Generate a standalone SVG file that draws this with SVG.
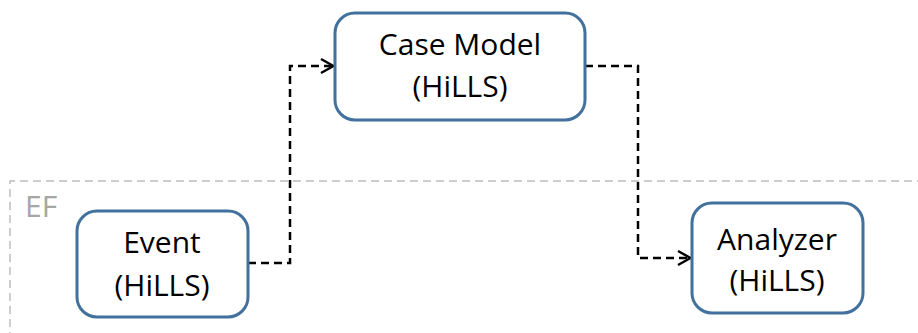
<svg xmlns="http://www.w3.org/2000/svg" width="918" height="333" viewBox="0 0 918 333">
<defs>
<style>
.node rect{fill:#fff;stroke:#41719c;stroke-width:3}
.node text{font-family:"Open Sans","Liberation Sans",sans-serif;font-size:30px;fill:#000;text-anchor:middle}
.conn path{fill:none;stroke:#000;stroke-width:2.5;stroke-dasharray:8 5}
.frame{fill:none;stroke:#bdbdbd;stroke-width:1.5;stroke-dasharray:8 5}
</style>
<marker id="arr" viewBox="0 0 16 18" refX="15" refY="9" markerWidth="16" markerHeight="18" markerUnits="userSpaceOnUse" orient="auto">
<path d="M2,2 L14.5,9 L2,16" fill="none" stroke="#000" stroke-width="2.5"/>
</marker>
</defs>
<rect width="918" height="333" fill="#fff"/>
<g id="EF">
<path class="frame" d="M10,340 L10,181 L925,181"/>
<text x="25" y="217" font-family="'Open Sans','Liberation Sans',sans-serif" font-size="30" fill="#a6a6a6">EF</text>
</g>
<g class="conn" id="connectors">
<path d="M248,263 L290,263 L290,66 L334,66" marker-end="url(#arr)"/>
<path d="M585,66 L638,66 L638,258 L691,258" marker-end="url(#arr)"/>
</g>
<g id="case_model" class="node">
<rect x="335" y="13" width="250" height="107" rx="20"/>
<text x="460" y="55">Case Model</text>
<text x="460" y="97">(HiLLS)</text>
</g>
<g id="event" class="node">
<rect x="77" y="211" width="171" height="106" rx="20"/>
<text x="162" y="253">Event</text>
<text x="162" y="296">(HiLLS)</text>
</g>
<g id="analyzer" class="node">
<rect x="692" y="203" width="171" height="110" rx="20"/>
<text x="777" y="250">Analyzer</text>
<text x="777" y="291">(HiLLS)</text>
</g>
</svg>
